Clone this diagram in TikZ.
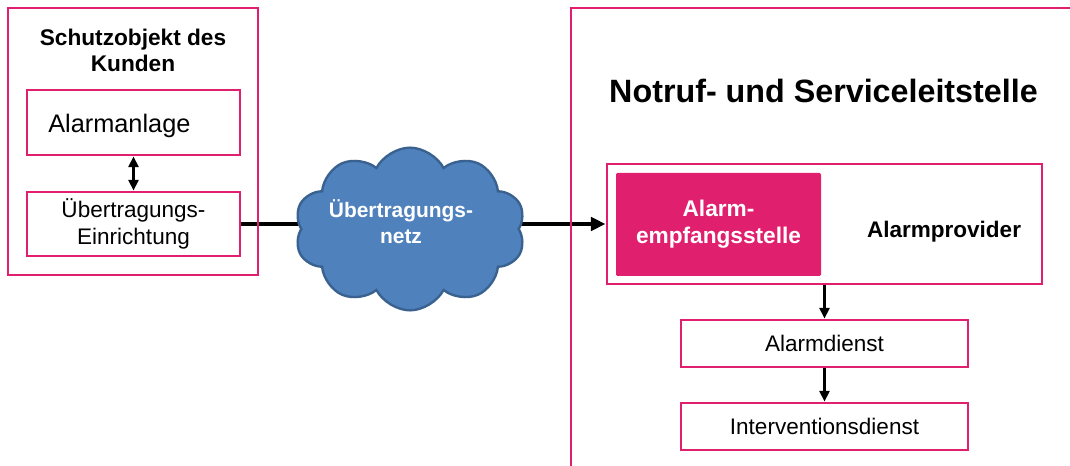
\documentclass[tikz,border=0pt]{standalone}
\usepackage{fontspec}
\setmainfont{Liberation Sans}
\usetikzlibrary{shapes.symbols,arrows.meta,backgrounds}
\definecolor{tmag}{HTML}{E0206E}
\definecolor{cloudblue}{HTML}{4F81BD}
\definecolor{cloudline}{HTML}{3A6290}
\tikzset{
  frame/.style={draw=tmag, line width=2.2pt},
  box/.style={draw=tmag, line width=2.2pt, fill=white, inner sep=0pt, align=center},
  conn/.style={draw=black, line width=2pt},
  bigconn/.style={draw=black, line width=2.6pt},
  smalltip/.style={-{Triangle[length=8pt,width=7.5pt]}},
}
\begin{document}
\begin{tikzpicture}[x=0.75pt,y=-0.75pt]
\useasboundingbox (0,0) rectangle (1070,466);
% left customer frame
\draw[frame] (8,8) rectangle (258,275);
\node[font=\fontsize{17}{19.5}\selectfont\bfseries, align=center] (schutz) at (133,50.5) {Schutzobjekt des\\Kunden};
\node[box, minimum width=159.75pt, minimum height=48.75pt] (aa) at (133.5,122.5) {};
\node[anchor=base west, inner sep=0pt, font=\fontsize{19}{22}\selectfont] (aatext) at (48,133) {Alarmanlage};
\node[box, minimum width=159.75pt, minimum height=48pt, font=\fontsize{16.9}{20.25}\selectfont] (uee) at (133.5,224) {Übertragungs-\\Einrichtung};
\draw[conn, {Triangle[length=8pt,width=7.5pt]}-{Triangle[length=8pt,width=7.5pt]}] (aa.south) -- (uee.north);

% cloud
\node[cloud, cloud puffs=10, cloud puff arc=125, aspect=1.45, draw=cloudline, fill=cloudblue, line width=1.8pt, minimum width=173pt, minimum height=122pt, inner sep=0pt] (net) at (410,229) {};
\node[font=\fontsize{15.7}{19.5}\selectfont\bfseries, text=white, align=center] (nettext) at (401,222) {Übertragungs-\\netz};

% right frame
\draw[frame] (571,470) -- (571,8) -- (1075,8);
\node[font=\fontsize{24.2}{28}\selectfont\bfseries] (title) at (823.5,90.5) {Notruf- und Serviceleitstelle};
\node[box, minimum width=326.25pt, minimum height=90pt] (ap) at (824.5,224) {};
\node[fill=tmag, rounded corners=1pt, inner sep=0pt, minimum width=153.75pt, minimum height=77.25pt, text=white, align=center, font=\fontsize{17}{20.25}\selectfont\bfseries] (ae) at (718.5,224.5) {Alarm-\\empfangsstelle};
\node[font=\fontsize{16.9}{20}\selectfont\bfseries] (aptext) at (944,231.4) {Alarmprovider};
\node[box, minimum width=215.25pt, minimum height=35.25pt, font=\fontsize{16.9}{20}\selectfont] (ad) at (824.5,343.5) {Alarmdienst};
\node[box, minimum width=215.25pt, minimum height=35.25pt, font=\fontsize{16.9}{20}\selectfont] (id) at (824.5,426.5) {Interventionsdienst};
\draw[conn, smalltip] (ap.south) -- (ad.north);
\draw[conn, smalltip] (ad.south) -- (id.north);

% connectors through the cloud
\begin{scope}[on background layer]
\draw[bigconn] (uee.east) -- (uee.east -| net.center);
\draw[bigconn, -{Triangle[length=11pt,width=10pt]}] (net.center |- ap.west) -- (ap.west);
\end{scope}
\end{tikzpicture}
\end{document}
